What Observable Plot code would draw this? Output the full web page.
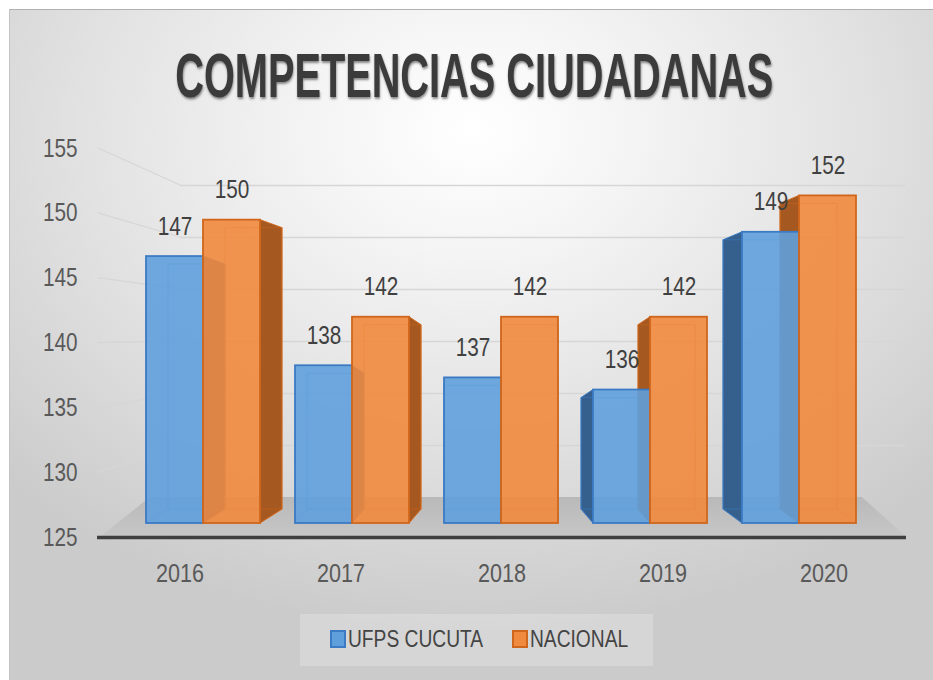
<!DOCTYPE html>
<html><head><meta charset="utf-8">
<script src="https://cdn.jsdelivr.net/npm/d3@7"></script>
<script src="https://cdn.jsdelivr.net/npm/@observablehq/plot@0.6"></script>
<style>
html,body{margin:0;padding:0;background:#fff;}
#wrap{position:relative;width:933px;height:680px;overflow:hidden;font-family:'Liberation Sans',Arial,sans-serif;}
#bg{position:absolute;left:9px;top:9px;width:924px;height:671px;
 background:radial-gradient(ellipse 70% 75% at 50% 18%, #ffffff 0%, #f4f4f4 25%, #e2e2e2 60%, #cbcbcb 100%);
 border-top:1px solid #b0b0b0;border-left:1px solid #c4c4c4;}
.layer{position:absolute;left:0;top:0;}
#title{position:absolute;left:0;top:44px;width:938px;text-align:center;white-space:nowrap;}
#title span{display:inline-block;font-family:'Liberation Sans',sans-serif;font-weight:bold;font-size:63px;line-height:1;color:#3b3b3b;
 text-shadow:1px 2px 3px rgba(0,0,0,0.45);transform-origin:50% 50%;}
#legend{position:absolute;left:300px;top:614px;width:353px;height:52px;background:rgba(255,255,255,0.22);}
#legend .sw{position:absolute;top:16px;width:12px;height:14px;border:2px solid;}
#legend .lab{position:absolute;top:11px;font-size:24px;line-height:28px;color:#444;white-space:nowrap;transform-origin:0 50%;}
</style></head>
<body>
<div id="wrap">
 <div id="bg"></div>
 <div id="title"><span id="titletext">COMPETENCIAS CIUDADANAS</span></div>
 <div id="legend"></div>
</div>
<script>
// ---- data ----
const years = ["2016", "2017", "2018", "2019", "2020"];
const seriesNames = ["UFPS CUCUTA", "NACIONAL"];
const ufps = [147, 138, 137, 136, 149];
const nacional = [150, 142, 142, 142, 152];
const yTicks = [125, 130, 135, 140, 145, 150, 155];
const yDomain = [125, 155];

// ---- styles ----
const fills = ["#5fa0dc", "#f08a3e"];
const strokes = ["#3b7bc4", "#d0661c"];
const sideFills = ["#355f8c", "#a5581f"];
const depthDx = [22, 12, 0, -12, -19]; // perspective offset per year (style)
const kt = 8, kb = 14;
const W = 933, H = 680;
const FONT = "'Liberation Sans',Arial,sans-serif";
const SQUEEZE = 0.83;

const rows = years.flatMap((y, i) => [
  {year: y, series: seriesNames[0], value: ufps[i]},
  {year: y, series: seriesNames[1], value: nacional[i]}
]);

const wrap = document.getElementById("wrap");
function addLayer(svg) { svg.classList.add("layer"); wrap.insertBefore(svg, document.getElementById("title")); }

const frontYScale = Plot.scale({y: {domain: yDomain, range: [537, 148]}});
const gridTicks = yTicks.filter(t => t > 125);

// ---- wall / floor layer ----
const wall = Plot.plot({
  width: W, height: H,
  marginLeft: 180, marginRight: 28, marginTop: 185, marginBottom: 183,
  style: {background: "transparent", overflow: "visible"},
  x: {type: "band", domain: years, axis: null},
  y: {domain: yDomain, axis: null},
  marks: [
    Plot.ruleY([125], {
      render(index, scales, values, dims) {
        const g = d3.create("svg:g");
        const yTop = scales.y(125), yBot = frontYScale.apply(125) - 1;
        const xl = dims.marginLeft - 30, xr = dims.width - dims.marginRight - 43;
        const grad = g.append("defs").append("linearGradient").attr("id", "floorg").attr("x1", 0).attr("y1", 0).attr("x2", 0).attr("y2", 1);
        grad.append("stop").attr("offset", "0%").attr("stop-color", "#b9b9b9");
        grad.append("stop").attr("offset", "100%").attr("stop-color", "#c6c6c6");
        g.append("polygon")
          .attr("points", [[101, yBot], [xl, yTop], [xr, yTop], [dims.width - 28, yBot]].map(p => p.join(",")).join(" "))
          .attr("fill", "url(#floorg)");
        return g.node();
      }
    }),
    Plot.ruleY(gridTicks, {stroke: "#d6d6d6", strokeWidth: 1.3}),
    Plot.ruleY(gridTicks, {
      render(index, scales, values, dims) {
        const g = d3.create("svg:g");
        for (const i of index) {
          const t = gridTicks[i];
          g.append("line").attr("x1", 98).attr("y1", frontYScale.apply(t))
            .attr("x2", dims.marginLeft).attr("y2", scales.y(t))
            .attr("stroke", "#d6d6d6").attr("stroke-width", 1.3);
        }
        return g.node();
      }
    })
  ]
});
addLayer(wall);

// ---- front layer: axis line and tick labels ----
const front = Plot.plot({
  width: W, height: H,
  marginLeft: 97, marginRight: 27, marginTop: 148, marginBottom: 143,
  style: {background: "transparent", fontFamily: FONT, overflow: "visible"},
  x: {type: "band", domain: years, padding: 0},
  y: {domain: yDomain},
  marks: [
    Plot.ruleY([125], {stroke: "#3f3f3f", strokeWidth: 3.5}),
    Plot.axisY(yTicks, {tickSize: 0, tickPadding: 20, fontSize: 25, fill: "#595959", label: null}),
    Plot.axisX({tickSize: 0, tickPadding: 26, fontSize: 26, fill: "#595959", label: null})
  ]
});
addLayer(front);

// ---- bars layer ----
const colorOf = s => seriesNames.indexOf(s);
const bars = Plot.plot({
  width: W, height: H,
  marginLeft: 145, marginRight: 76, marginTop: 159, marginBottom: 157,
  style: {background: "transparent", fontFamily: FONT, overflow: "visible"},
  fx: {domain: years, padding: 0.2375, axis: null, label: null},
  x: {domain: seriesNames, padding: 0, axis: null, label: null},
  y: {domain: yDomain, axis: null},
  marks: [
    // 3D side faces
    Plot.barY(rows, {
      fx: "year", x: "series", y1: 125, y2: "value",
      render(index, scales, values) {
        const g = d3.create("svg:g");
        const bw = scales.x.bandwidth();
        for (const i of index) {
          const d = rows[i];
          const dx = depthDx[years.indexOf(d.year)];
          if (!dx) continue;
          const x0 = values.x[i], x1 = x0 + bw;
          const yT = Math.min(values.y1[i], values.y2[i]), yB = Math.max(values.y1[i], values.y2[i]);
          const xe = dx > 0 ? x1 : x0;
          const k = colorOf(d.series);
          g.append("polygon")
            .attr("points", [[xe, yT], [xe + dx, yT + kt], [xe + dx, yB - kb], [xe, yB]].map(p => p.join(",")).join(" "))
            .attr("fill", sideFills[k]).attr("stroke", strokes[k]).attr("stroke-width", 1);
        }
        return g.node();
      }
    }),
    // back edges seen through
    Plot.barY(rows, {
      fx: "year", x: "series", y1: 125, y2: "value",
      render(index, scales, values) {
        const g = d3.create("svg:g");
        const bw = scales.x.bandwidth();
        for (const i of index) {
          const d = rows[i];
          const dx = depthDx[years.indexOf(d.year)];
          const x0 = values.x[i], x1 = x0 + bw;
          const yT = Math.min(values.y1[i], values.y2[i]), yB = Math.max(values.y1[i], values.y2[i]);
          const c = strokes[colorOf(d.series)];
          g.append("rect").attr("x", x0 + dx).attr("y", yT + kt).attr("width", bw).attr("height", yB - kb - yT - kt)
            .attr("fill", "none").attr("stroke", c).attr("stroke-opacity", 0.55).attr("stroke-width", 1);
          g.append("line").attr("x1", x0).attr("y1", yB).attr("x2", x0 + dx).attr("y2", yB - kb)
            .attr("stroke", c).attr("stroke-opacity", 0.45);
          g.append("line").attr("x1", x1).attr("y1", yB).attr("x2", x1 + dx).attr("y2", yB - kb)
            .attr("stroke", c).attr("stroke-opacity", 0.45);
        }
        return g.node();
      }
    }),
    // front faces
    Plot.barY(rows, {
      fx: "year", x: "series", y1: 125, y2: "value",
      fill: d => fills[colorOf(d.series)], fillOpacity: 0.9,
      stroke: d => strokes[colorOf(d.series)], strokeWidth: 1.8
    }),
    // value labels
    Plot.text(rows, {
      fx: "year", x: "series", y: "value", text: d => String(d.value),
      dy: -30, fontSize: 25, fill: "#404040"
    })
  ]
});
addLayer(bars);

// condense SVG text (the original uses a narrow face)
for (const svg of [front, bars]) {
  svg.querySelectorAll("text").forEach(t => {
    const len = t.getComputedTextLength();
    if (len > 0) {
      t.setAttribute("textLength", (len * SQUEEZE).toFixed(1));
      t.setAttribute("lengthAdjust", "spacingAndGlyphs");
    }
  });
}

// ---- legend ----
const leg = document.getElementById("legend");
const legPos = [30, 212]; // swatch offsets inside the legend box (style)
seriesNames.forEach((s, k) => {
  const sw = document.createElement("span");
  sw.className = "sw"; sw.style.left = legPos[k] + "px";
  sw.style.background = fills[k]; sw.style.borderColor = strokes[k];
  const lab = document.createElement("span");
  lab.className = "lab"; lab.textContent = s; lab.style.left = (legPos[k] + 18) + "px";
  lab.style.transform = `scaleX(${SQUEEZE - 0.03})`;
  leg.appendChild(sw); leg.appendChild(lab);
});

// ---- title width fit ----
const tt = document.getElementById("titletext");
const w = tt.getBoundingClientRect().width;
tt.style.transform = `scaleX(${598 / w})`;
</script>
</body></html>
